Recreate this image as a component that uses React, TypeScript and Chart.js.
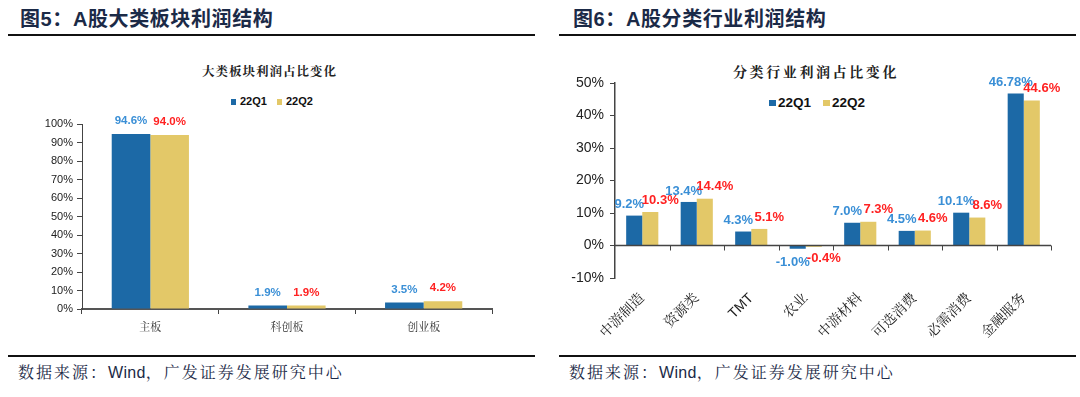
import React, { useEffect, useRef } from "react";
import { Chart, registerables } from "chart.js";

Chart.register(...registerables);

// ---------- data ----------
const seriesNames = ["22Q1", "22Q2"];

const boardCategories = ["主板", "科创板", "创业板"];
const boardQ1 = [94.6, 1.9, 3.5];
const boardQ2 = [94.0, 1.9, 4.2];
const boardQ1Labels = ["94.6%", "1.9%", "3.5%"];
const boardQ2Labels = ["94.0%", "1.9%", "4.2%"];
const boardTickValues = [0, 10, 20, 30, 40, 50, 60, 70, 80, 90, 100];

const industryCategories = ["中游制造", "资源类", "TMT", "农业", "中游材料", "可选消费", "必需消费", "金融服务"];
const industryQ1 = [9.2, 13.4, 4.3, -1.0, 7.0, 4.5, 10.1, 46.78];
const industryQ2 = [10.3, 14.4, 5.1, -0.4, 7.3, 4.6, 8.6, 44.6];
const industryQ1Labels = ["9.2%", "13.4%", "4.3%", "-1.0%", "7.0%", "4.5%", "10.1%", "46.78%"];
const industryQ2Labels = ["10.3%", "14.4%", "5.1%", "-0.4%", "7.3%", "4.6%", "8.6%", "44.6%"];
const industryTickValues = [-10, 0, 10, 20, 30, 40, 50];

// ---------- styles ----------
const BLUE = "#1c69a6";
const YELLOW = "#e3c868";
const BLUE_TEXT = "#3a8fd6";
const RED_TEXT = "#ff2222";
const AXIS = "#444";
const SANS = "'Liberation Sans', Arial, 'Noto Sans CJK SC', sans-serif";
const CJK = "'Noto Serif CJK SC', 'Noto Sans CJK SC', 'Liberation Sans', sans-serif";
const MIXED_SERIF = "'Liberation Sans', Arial, 'Noto Serif CJK SC', 'Noto Sans CJK SC', sans-serif";
const HEAD = "'Liberation Sans', Arial, 'Noto Sans CJK SC', sans-serif";

const valueLabelPlugin = {
  id: "valueLabels",
  afterDatasetsDraw(chart: any, _args: any, opts: any) {
    const ctx = chart.ctx;
    chart.data.datasets.forEach((ds: any, di: number) => {
      const cfg = opts.series[di];
      const meta = chart.getDatasetMeta(di);
      meta.data.forEach((bar: any, i: number) => {
        const v = ds.data[i];
        ctx.save();
        ctx.font = opts.font;
        ctx.fillStyle = cfg.color;
        ctx.textAlign = "center";
        ctx.textBaseline = "middle";
        const y = v >= 0 ? bar.y - cfg.dy : bar.y + cfg.dyNeg;
        ctx.fillText(cfg.texts[i], bar.x + cfg.dx, y);
        ctx.restore();
      });
    });
  },
};

const zeroAxisPlugin = {
  id: "zeroAxis",
  afterDatasetsDraw(chart: any, _args: any, opts: any) {
    if (!opts || !opts.enabled) return;
    const ctx = chart.ctx;
    const y0 = chart.scales.y.getPixelForValue(0);
    const { left, right } = chart.chartArea;
    const n = chart.data.labels.length;
    const w = (right - left) / n;
    ctx.save();
    ctx.strokeStyle = AXIS;
    ctx.lineWidth = 1.5;
    ctx.beginPath();
    ctx.moveTo(left, y0);
    ctx.lineTo(right, y0);
    ctx.stroke();
    ctx.lineWidth = 1;
    for (let k = 1; k <= n; k++) {
      const x = Math.round(left + k * w) + 0.5;
      ctx.beginPath();
      ctx.moveTo(x, y0);
      ctx.lineTo(x, y0 + 5);
      ctx.stroke();
    }
    ctx.restore();
  },
};

function BarCanvas({ build, left, top, width, height }: any) {
  const ref = useRef<HTMLCanvasElement | null>(null);
  useEffect(() => {
    if (!ref.current) return;
    const chart = new Chart(ref.current, build());
    return () => chart.destroy();
  }, []);
  return (
    <canvas
      ref={ref}
      width={width}
      height={height}
      style={{ position: "absolute", left, top, width, height }}
    />
  );
}

function buildBoard() {
  return {
    type: "bar",
    data: {
      labels: boardCategories,
      datasets: [
        { label: seriesNames[0], data: boardQ1, backgroundColor: BLUE, borderWidth: 0, categoryPercentage: 0.565, barPercentage: 1 },
        { label: seriesNames[1], data: boardQ2, backgroundColor: YELLOW, borderWidth: 0, categoryPercentage: 0.565, barPercentage: 1 },
      ],
    },
    options: {
      animation: false,
      responsive: false,
      devicePixelRatio: 1,
      layout: { padding: { top: 124, left: 0, right: 48, bottom: 58 } },
      plugins: {
        legend: { display: false },
        tooltip: { enabled: false },
        valueLabels: {
          font: `bold 11.5px ${SANS}`,
          series: [
            { color: BLUE_TEXT, texts: boardQ1Labels, dx: 0, dy: 13, dyNeg: 12 },
            { color: RED_TEXT, texts: boardQ2Labels, dx: 0, dy: 13, dyNeg: 12 },
          ],
        },
      },
      scales: {
        x: {
          grid: { display: true, drawOnChartArea: false, drawTicks: true, tickLength: 5, color: AXIS, offset: true },
          border: { display: true, color: "#555", width: 2 },
          ticks: { font: { family: CJK, size: 11 }, color: "#333", padding: 6 },
          afterFit: (s: any) => { s.height = 30; },
        },
        y: {
          min: 0,
          max: 100,
          afterBuildTicks: (s: any) => { s.ticks = boardTickValues.map((v) => ({ value: v })); },
          grid: { display: true, drawOnChartArea: false, drawTicks: true, tickLength: 5, color: AXIS },
          border: { display: true, color: AXIS, width: 1 },
          ticks: { font: { family: SANS, size: 11 }, color: "#222", padding: 4, callback: (v: any) => `${v}%` },
          afterFit: (s: any) => { s.width = 82; },
        },
      },
    },
    plugins: [valueLabelPlugin],
  };
}

function buildIndustry() {
  return {
    type: "bar",
    data: {
      labels: industryCategories,
      datasets: [
        { label: seriesNames[0], data: industryQ1, backgroundColor: BLUE, borderWidth: 0, categoryPercentage: 0.59, barPercentage: 1 },
        { label: seriesNames[1], data: industryQ2, backgroundColor: YELLOW, borderWidth: 0, categoryPercentage: 0.59, barPercentage: 1 },
      ],
    },
    options: {
      animation: false,
      responsive: false,
      devicePixelRatio: 1,
      layout: { padding: { top: 83, left: 0, right: 29, bottom: 39 } },
      plugins: {
        legend: { display: false },
        tooltip: { enabled: false },
        zeroAxis: { enabled: true },
        valueLabels: {
          font: `bold 13px ${SANS}`,
          series: [
            { color: BLUE_TEXT, texts: industryQ1Labels, dx: -5, dy: 11, dyNeg: 14 },
            { color: RED_TEXT, texts: industryQ2Labels, dx: 10, dy: 12, dyNeg: 12 },
          ],
        },
      },
      scales: {
        x: {
          grid: { display: false },
          border: { display: false },
          ticks: { font: { family: MIXED_SERIF, size: 14 }, color: "#222", padding: 4, minRotation: 45, maxRotation: 45, autoSkip: false },
          afterFit: (s: any) => { s.height = 80; },
        },
        y: {
          min: -10,
          max: 50,
          afterBuildTicks: (s: any) => { s.ticks = industryTickValues.map((v) => ({ value: v })); },
          grid: { display: true, drawOnChartArea: false, drawTicks: true, tickLength: 5, color: AXIS },
          border: { display: true, color: AXIS, width: 1.5 },
          ticks: { font: { family: SANS, size: 14 }, color: "#222", padding: 6, callback: (v: any) => `${v}%` },
          afterFit: (s: any) => { s.width = 75; },
        },
      },
    },
    plugins: [valueLabelPlugin, zeroAxisPlugin],
  };
}

const abs = (l: number, t: number, extra: any = {}) => ({ position: "absolute" as const, left: l, top: t, ...extra });

function Legend({ left, top, size, sq, gapIn, gapOut }: any) {
  const colors = [BLUE, YELLOW];
  return (
    <div style={abs(left, top, { display: "flex", alignItems: "center", whiteSpace: "nowrap", font: `bold ${size}px ${SANS}`, color: "#111", lineHeight: `${size + 2}px` })}>
      {seriesNames.map((n, i) => (
        <React.Fragment key={n}>
          <span style={{ display: "inline-block", width: sq[0], height: sq[1], background: colors[i], marginRight: gapIn, marginLeft: i ? gapOut : 0 }} />
          <span>{n}</span>
        </React.Fragment>
      ))}
    </div>
  );
}

function Source({ left }: { left: number }) {
  return (
    <div style={abs(left, 363, { font: `16px ${MIXED_SERIF}`, color: "#1b2a47", whiteSpace: "nowrap", lineHeight: "20px", letterSpacing: "2px" })}>
      数据来源：<span style={{ fontFamily: SANS, letterSpacing: "0.3px" }}>Wind</span>，广发证券发展研究中心
    </div>
  );
}

export default function App() {
  const titleStyle = { font: `bold 20px ${HEAD}`, color: "#1b2a47", whiteSpace: "nowrap" as const, lineHeight: "22px", letterSpacing: "0.6px" };
  return (
    <div style={{ position: "fixed", left: 0, top: 0, width: 1080, height: 397, background: "#fff", overflow: "hidden" }}>
      {/* left panel */}
      <div style={abs(20, 8, titleStyle)}>图5：A股大类板块利润结构</div>
      <div style={abs(8, 34, { width: 527, height: 2, background: "#111" })} />
      <div style={abs(8, 355, { width: 527, height: 2, background: "#111" })} />
      <Source left={18} />
      <div style={abs(202, 62, { font: `bold 12.5px ${CJK}`, color: "#222", letterSpacing: "1px", whiteSpace: "nowrap", lineHeight: "18px" })}>大类板块利润占比变化</div>
      <Legend left={231} top={95} size={11} sq={[5, 6]} gapIn={4} gapOut={10} />
      <BarCanvas build={buildBoard} left={0} top={0} width={540} height={397} />

      {/* right panel */}
      <div style={abs(573, 8, titleStyle)}>图6：A股分类行业利润结构</div>
      <div style={abs(559, 34, { width: 517, height: 2, background: "#111" })} />
      <div style={abs(559, 355, { width: 517, height: 2, background: "#111" })} />
      <Source left={569} />
      <div style={abs(733, 62, { font: `bold 14px ${CJK}`, color: "#222", letterSpacing: "2.6px", whiteSpace: "nowrap", lineHeight: "18px" })}>分类行业利润占比变化</div>
      <Legend left={769} top={95} size={13.5} sq={[7, 6]} gapIn={2} gapOut={12} />
      <BarCanvas build={buildIndustry} left={540} top={0} width={540} height={397} />
    </div>
  );
}
